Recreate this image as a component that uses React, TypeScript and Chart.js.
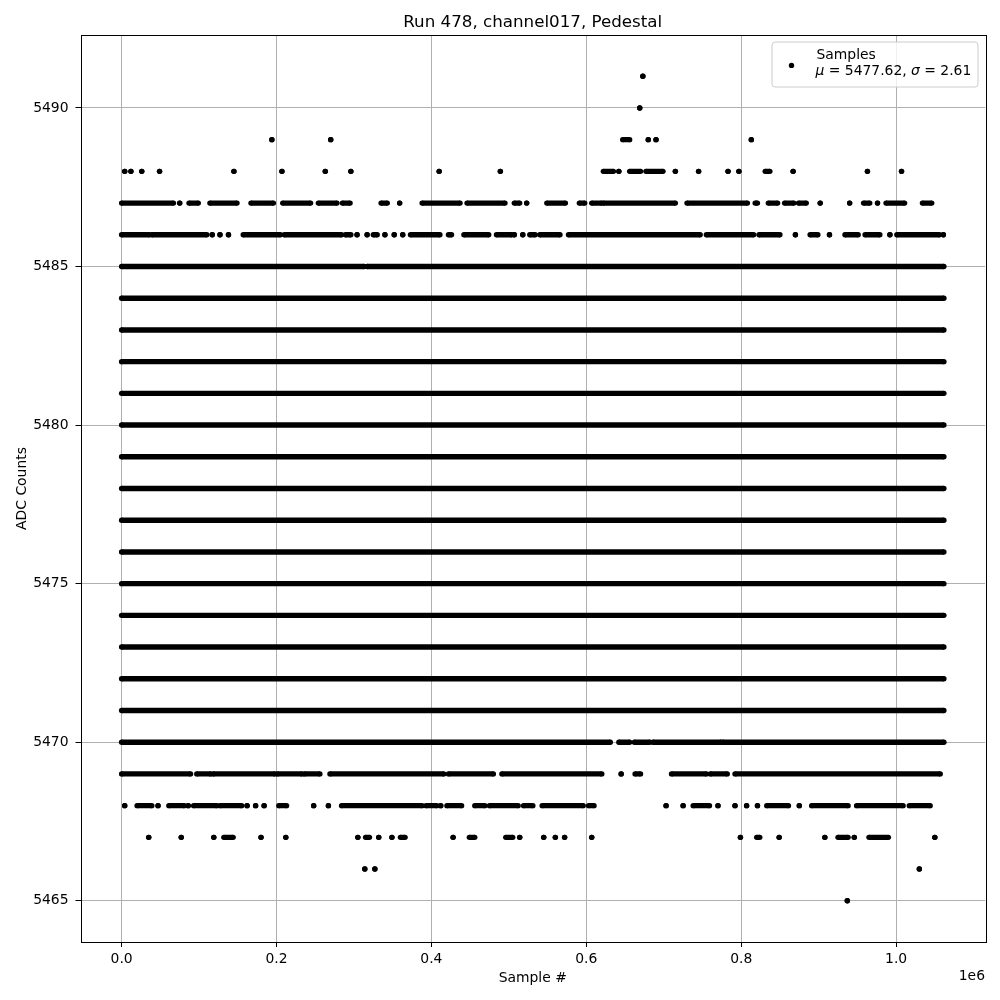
import { useEffect, useRef } from 'react';
import { Chart, registerables } from 'chart.js';

Chart.register(...registerables);

const TITLE = 'Run 478, channel017, Pedestal';
const X_LABEL = 'Sample #';
const Y_LABEL = 'ADC Counts';
const X_OFFSET_LABEL = '1e6';
const SERIES_LABEL = 'Samples';
const MEAN = 5477.62;
const SIGMA = 2.61;

// axis extents (samples / ADC counts)
const LAST_SAMPLE_K = 1061.7; // thousands of samples
const X_TICKS = [0, 200000, 400000, 600000, 800000, 1000000];
const Y_TICKS = [5465, 5470, 5475, 5480, 5485, 5490];
const Y_MIN_VALUE = 5465;
const Y_MAX_VALUE = 5491;

// Runs of samples at each ADC value: [startK, endK] in thousands of samples
const row5491 = [[673, 673]];
const row5490 = [[669, 669]];
const row5489 = [[194, 194], [270, 270], [647, 656], [680, 680], [690, 690], [813, 813]];
const row5488 = [[4, 4], [12, 12], [26, 26], [49, 49], [145, 145], [207, 207], [263, 263], [296, 296], [410, 410], [489, 489], [622, 635], [642, 642], [656, 670], [677, 699], [715, 715], [745, 745], [783, 783], [797, 797], [831, 837], [867, 867], [963, 963], [1007, 1007]];
const row5487 = [[0, 67], [75, 75], [87, 99], [114, 149], [167, 196], [208, 244], [254, 278], [285, 295], [335, 343], [359, 359], [388, 437], [446, 495], [507, 514], [523, 523], [549, 573], [591, 598], [607, 620], [622, 715], [730, 808], [818, 821], [835, 847], [856, 868], [874, 884], [902, 902], [940, 940], [958, 966], [976, 976], [987, 1011], [1034, 1046]];
const row5486 = [[0, 36], [39, 110], [117, 117], [127, 127], [138, 138], [157, 205], [210, 284], [289, 296], [304, 304], [317, 317], [325, 330], [340, 340], [352, 352], [363, 363], [373, 411], [422, 426], [442, 474], [484, 504], [507, 507], [518, 518], [527, 534], [540, 566], [577, 747], [755, 816], [823, 850], [870, 870], [889, 899], [914, 914], [934, 951], [960, 979], [992, 992], [1001, 1056], [1061, 1061]];
const row5485 = [[0, 313], [317, LAST_SAMPLE_K]];
const fullRow = [[0, LAST_SAMPLE_K]];
const denseRowValues = [5471, 5472, 5473, 5474, 5475, 5476, 5477, 5478, 5479, 5480, 5481, 5482, 5483, 5484];
const row5470 = [[0, 631], [642, 656], [662, 682], [686, 774], [776, LAST_SAMPLE_K]];
const row5469 = [[0, 89], [97, 115], [118, 198], [201, 233], [236, 256], [269, 416], [422, 480], [491, 620], [645, 645], [663, 670], [710, 755], [760, 782], [792, 1057]];
const row5468 = [[4, 4], [20, 39], [47, 47], [61, 81], [86, 86], [93, 123], [127, 155], [162, 162], [173, 173], [184, 184], [203, 213], [248, 248], [267, 267], [284, 388], [393, 407], [412, 412], [420, 439], [456, 469], [475, 512], [519, 531], [543, 596], [603, 610], [703, 703], [725, 725], [738, 759], [770, 770], [792, 792], [807, 807], [821, 821], [833, 861], [875, 875], [891, 938], [949, 1009], [1017, 1044]];
const row5467 = [[35, 35], [77, 77], [119, 119], [132, 144], [180, 180], [212, 212], [305, 305], [315, 320], [332, 332], [349, 349], [360, 366], [428, 428], [449, 456], [496, 505], [514, 514], [545, 545], [560, 560], [572, 572], [607, 607], [799, 799], [820, 824], [849, 849], [908, 908], [925, 938], [946, 946], [965, 990], [1050, 1050]];
const row5466 = [[314, 314], [327, 327], [1030, 1030]];
const row5465 = [[937, 937]];

const rows: [number, number[][]][] = [
  [5491, row5491],
  [5490, row5490],
  [5489, row5489],
  [5488, row5488],
  [5487, row5487],
  [5486, row5486],
  [5485, row5485],
  ...denseRowValues.map((v) => [v, fullRow] as [number, number[][]]),
  [5470, row5470],
  [5469, row5469],
  [5468, row5468],
  [5467, row5467],
  [5466, row5466],
  [5465, row5465],
];

const FONT = "'DejaVu Sans', 'Liberation Sans', sans-serif";

const xSpan = LAST_SAMPLE_K * 1000;
const X_MIN = -0.05 * xSpan;
const X_MAX = 1.05 * xSpan;
const ySpan = Y_MAX_VALUE - Y_MIN_VALUE;
const Y_MIN = Y_MIN_VALUE - 0.05 * ySpan;
const Y_MAX = Y_MAX_VALUE + 0.05 * ySpan;

const decorPlugin = {
  id: 'decor',
  afterDatasetsDraw(chart: any) {
    const { ctx, chartArea } = chart;
    const { left, right, top, bottom } = chartArea;
    ctx.save();
    // frame
    ctx.strokeStyle = '#000';
    ctx.lineWidth = 1;
    ctx.strokeRect(Math.round(left) + 0.5, Math.round(top) + 0.5, Math.round(right - left), Math.round(bottom - top));

    // title
    const cx = (left + right) / 2;
    ctx.fillStyle = '#000';
    ctx.textAlign = 'center';
    ctx.textBaseline = 'alphabetic';
    ctx.font = `16.7px ${FONT}`;
    ctx.fillText(TITLE, cx, 27);

    // axis labels
    ctx.font = `13.9px ${FONT}`;
    ctx.fillText(X_LABEL, cx, 982);
    ctx.textAlign = 'right';
    ctx.fillText(X_OFFSET_LABEL, right, 980);
    ctx.save();
    ctx.translate(26, (top + bottom) / 2);
    ctx.rotate(-Math.PI / 2);
    ctx.textAlign = 'center';
    ctx.fillText(Y_LABEL, 0, 0);
    ctx.restore();

    // legend
    const bx = right - 7 - 206;
    const by = top + 7;
    const bw = 206;
    const bh = 45;
    const r = 3;
    ctx.beginPath();
    ctx.moveTo(bx + r, by);
    ctx.arcTo(bx + bw, by, bx + bw, by + bh, r);
    ctx.arcTo(bx + bw, by + bh, bx, by + bh, r);
    ctx.arcTo(bx, by + bh, bx, by, r);
    ctx.arcTo(bx, by, bx + bw, by, r);
    ctx.closePath();
    ctx.fillStyle = 'rgba(255,255,255,0.8)';
    ctx.fill();
    ctx.strokeStyle = '#cccccc';
    ctx.lineWidth = 1;
    ctx.stroke();

    ctx.fillStyle = '#000';
    ctx.beginPath();
    ctx.arc(bx + 19.5, by + 23.4, 2.7, 0, Math.PI * 2);
    ctx.fill();

    ctx.textAlign = 'left';
    ctx.font = `13.9px ${FONT}`;
    const tx = bx + 44.5;
    ctx.fillText(SERIES_LABEL, tx, by + 17);
    const parts: [string, boolean][] = [
      ['\u03BC', true],
      [` = ${MEAN.toFixed(2)}, `, false],
      ['\u03C3', true],
      [` = ${SIGMA.toFixed(2)}`, false],
    ];
    let px = tx - 1;
    const ly = by + 33.4;
    for (const [t, it] of parts) {
      ctx.font = `${it ? 'italic ' : ''}13.9px ${FONT}`;
      ctx.fillText(t, px, ly);
      px += ctx.measureText(t).width;
    }
    ctx.restore();
  },
};

export default function App() {
  const ref = useRef<HTMLCanvasElement | null>(null);
  useEffect(() => {
    if (!ref.current) return;
    const points: { x: number; y: number | null }[] = [];
    for (const [y, runs] of rows) {
      for (const [s, e] of runs) {
        points.push({ x: s * 1000, y });
        points.push({ x: e * 1000, y });
        points.push({ x: e * 1000, y: null });
      }
    }
    const chart = new Chart(ref.current, {
      type: 'scatter',
      data: {
        datasets: [
          {
            label: SERIES_LABEL,
            data: points as any,
            showLine: true,
            spanGaps: false,
            borderColor: '#000',
            borderWidth: 5.4,
            borderCapStyle: 'butt',
            pointRadius: 2.7,
            pointBorderWidth: 0,
            pointBackgroundColor: '#000',
            pointHoverRadius: 2.7,
          } as any,
        ],
      },
      options: {
        responsive: false,
        animation: false,
        events: [],
        layout: { padding: { top: 35, right: 15, left: 0, bottom: 0 } },
        plugins: {
          legend: { display: false },
          title: { display: false },
          tooltip: { enabled: false },
        },
        scales: {
          x: {
            type: 'linear',
            min: X_MIN,
            max: X_MAX,
            afterBuildTicks: (s: any) => {
              s.ticks = X_TICKS.map((v) => ({ value: v }));
            },
            afterFit: (s: any) => {
              s.height = 58;
            },
            ticks: {
              autoSkip: false,
              maxRotation: 0,
              color: '#000',
              padding: 4,
              font: { family: FONT, size: 13.9 },
              callback: (v: any) => (Number(v) / 1e6).toFixed(1),
            },
            grid: { color: '#b0b0b0', lineWidth: 1, tickColor: '#000', tickLength: 5 },
            border: { display: false },
          },
          y: {
            type: 'linear',
            min: Y_MIN,
            max: Y_MAX,
            afterBuildTicks: (s: any) => {
              s.ticks = Y_TICKS.map((v) => ({ value: v }));
            },
            afterFit: (s: any) => {
              s.width = 80.5;
            },
            ticks: {
              autoSkip: false,
              color: '#000',
              padding: 7,
              font: { family: FONT, size: 13.9 },
              callback: (v: any) => String(v),
            },
            grid: { color: '#b0b0b0', lineWidth: 1, tickColor: '#000', tickLength: 5 },
            border: { display: false },
          },
        },
      },
      plugins: [decorPlugin],
    });
    return () => chart.destroy();
  }, []);
  return (
    <div style={{ position: 'absolute', left: 0, top: 0, width: 1000, height: 1000, background: '#fff' }}>
      <canvas ref={ref} width={1000} height={1000} />
    </div>
  );
}
